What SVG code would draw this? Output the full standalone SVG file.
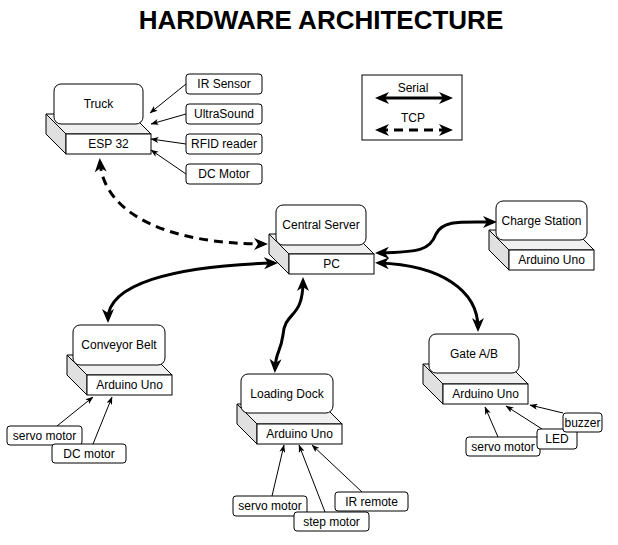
<svg xmlns="http://www.w3.org/2000/svg" width="618" height="545" viewBox="0 0 618 545">
<defs>
<marker id="big" viewBox="0 0 14 12" markerWidth="14" markerHeight="12" markerUnits="userSpaceOnUse" refX="10" refY="6" orient="auto-start-reverse"><path d="M0,0 L14,6 L0,12 L4,6 z" fill="#000"/></marker>
<marker id="thin" viewBox="0 0 8 6" markerWidth="8" markerHeight="6" markerUnits="userSpaceOnUse" refX="7.5" refY="3" orient="auto"><path d="M0,0 L8,3 L0,6 L2,3 z" fill="#000"/></marker>
<style>
text{font-family:"Liberation Sans",Arial,sans-serif;font-size:12px;fill:#000;text-anchor:middle}
.title{font-size:26px;font-weight:bold}
.box{fill:#fff;stroke:#000;stroke-width:1}
.side{fill:#e0e0e0;stroke:#000;stroke-width:1}
.top{fill:#f0f0f0;stroke:#000;stroke-width:1}
.thick{fill:none;stroke:#000;stroke-width:3;marker-start:url(#big);marker-end:url(#big)}
.dash{stroke-dasharray:9 6}
.thinl{fill:none;stroke:#000;stroke-width:1;marker-end:url(#thin)}
</style>
</defs>
<text class="title" x="321" y="29">HARDWARE ARCHITECTURE</text>

<g id="legend">
<rect class="box" x="362" y="75" width="100" height="65"/>
<text x="413" y="92">Serial</text>
<path class="thick" d="M379,98 L449,98"/>
<text x="413" y="122">TCP</text>
<path class="thick dash" d="M379,130 L449,130"/>
</g>

<g id="connectors">
<path class="thick dash" d="M100,162 C104,215 170,244 264,244"/>
<path class="thick" d="M379,253 C420,252 430,250 436,234 C443,220 460,222 493,222"/>
<path class="thick" d="M379,263 C440,265 478,290 478,328"/>
<path class="thick" d="M274,263 C170,266 108,285 108,319"/>
<path class="thick" d="M303,281 C303,320 285,310 283,335 C280,355 276,350 275,369"/>
<path class="thinl" d="M186,84 L150,113"/>
<path class="thinl" d="M186,114 L151,124"/>
<path class="thinl" d="M186,144 L151,139"/>
<path class="thinl" d="M186,174 L151,150"/>
<path class="thinl" d="M57,426 L93,397"/>
<path class="thinl" d="M93,444 L112,397"/>
<path class="thinl" d="M272,496 L284,445"/>
<path class="thinl" d="M325,512 L299,445"/>
<path class="thinl" d="M362,492 L312,445"/>
<path class="thinl" d="M498,437 L485,407"/>
<path class="thinl" d="M542,429 L506,406"/>
<path class="thinl" d="M563,413 L530,405"/>
</g>

<g id="truck">
<path class="side" d="M46,114 L66,134 L66,154 L46,134 Z"/>
<path class="top" d="M46,114 L131,114 L151,134 L66,134 Z"/>
<rect class="box" x="66" y="134" width="85" height="20"/>
<text x="108.5" y="148">ESP 32</text>
<rect class="box" x="54" y="84" width="89" height="40" rx="7"/>
<text x="98.5" y="108">Truck</text>
</g>
<g id="ir-sensor"><rect class="box" x="186" y="74" width="76" height="20" rx="3"/><text x="224" y="88">IR Sensor</text></g>
<g id="ultrasound"><rect class="box" x="186" y="104" width="76" height="20" rx="3"/><text x="224" y="118">UltraSound</text></g>
<g id="rfid"><rect class="box" x="186" y="134" width="76" height="20" rx="3"/><text x="224" y="148">RFID reader</text></g>
<g id="dc-motor-truck"><rect class="box" x="186" y="164" width="76" height="20" rx="3"/><text x="224" y="178">DC Motor</text></g>

<g id="central-server">
<path class="side" d="M269,234 L289,254 L289,274 L269,254 Z"/>
<path class="top" d="M269,234 L354,234 L374,254 L289,254 Z"/>
<rect class="box" x="289" y="254" width="85" height="20"/>
<text x="331.5" y="268">PC</text>
<rect class="box" x="276" y="205" width="90" height="40" rx="7"/>
<text x="321" y="229">Central Server</text>
</g>

<g id="charge-station">
<path class="side" d="M489,230 L509,250 L509,270 L489,250 Z"/>
<path class="top" d="M489,230 L574,230 L594,250 L509,250 Z"/>
<rect class="box" x="509" y="250" width="85" height="20"/>
<text x="551.5" y="264">Arduino Uno</text>
<rect class="box" x="496" y="201" width="91" height="39" rx="7"/>
<text x="541.5" y="225">Charge Station</text>
</g>

<g id="conveyor-belt">
<path class="side" d="M67,355 L87,375 L87,395 L67,375 Z"/>
<path class="top" d="M67,355 L152,355 L172,375 L87,375 Z"/>
<rect class="box" x="87" y="375" width="85" height="20"/>
<text x="129.5" y="389">Arduino Uno</text>
<rect class="box" x="73" y="325" width="92" height="40" rx="7"/>
<text x="119" y="349">Conveyor Belt</text>
</g>
<g id="servo-conveyor"><rect class="box" x="7" y="426" width="75" height="19" rx="3"/><text x="44.5" y="440">servo motor</text></g>
<g id="dc-conveyor"><rect class="box" x="52" y="444" width="74" height="19" rx="3"/><text x="89" y="458">DC motor</text></g>

<g id="loading-dock">
<path class="side" d="M237,404 L257,424 L257,444 L237,424 Z"/>
<path class="top" d="M237,404 L322,404 L342,424 L257,424 Z"/>
<rect class="box" x="257" y="424" width="85" height="20"/>
<text x="299.5" y="438">Arduino Uno</text>
<rect class="box" x="241" y="374" width="92" height="39" rx="7"/>
<text x="287" y="398">Loading Dock</text>
</g>
<g id="servo-dock"><rect class="box" x="233" y="496" width="74" height="20" rx="3"/><text x="270" y="510">servo motor</text></g>
<g id="step-motor"><rect class="box" x="294" y="512" width="75" height="19" rx="3"/><text x="331.5" y="526">step motor</text></g>
<g id="ir-remote"><rect class="box" x="335" y="492" width="73" height="19" rx="3"/><text x="371.5" y="506">IR remote</text></g>

<g id="gate">
<path class="side" d="M423,364 L443,384 L443,404 L423,384 Z"/>
<path class="top" d="M423,364 L508,364 L528,384 L443,384 Z"/>
<rect class="box" x="443" y="384" width="85" height="20"/>
<text x="485.5" y="398">Arduino Uno</text>
<rect class="box" x="429" y="334" width="90" height="39" rx="7"/>
<text x="474" y="358">Gate A/B</text>
</g>
<g id="servo-gate"><rect class="box" x="466" y="437" width="74" height="19" rx="3"/><text x="503" y="451">servo motor</text></g>
<g id="led"><rect class="box" x="537" y="429" width="40" height="20" rx="3"/><text x="557" y="443">LED</text></g>
<g id="buzzer"><rect class="box" x="563" y="413" width="39" height="19" rx="3"/><text x="582.5" y="427">buzzer</text></g>
</svg>
